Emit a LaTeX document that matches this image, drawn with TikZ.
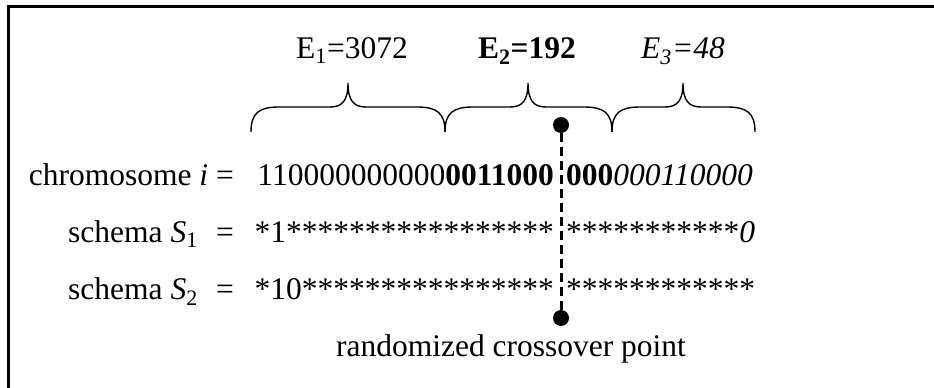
\documentclass[tikz,border=0pt]{standalone}
\usepackage{fontspec}
\setmainfont{Liberation Serif}
% curly brace over a bit range: left end, right end, tip position
\newcommand\bitbrace[3]{%
  \draw[bracestyle] (#1,132) .. controls (#1,113) and (#1+8,107) .. (#1+28,107)
    -- (#3-18,107) .. controls (#3-6,107) and (#3,101) .. (#3,83)
    .. controls (#3,101) and (#3+6,107) .. (#3+18,107)
    -- (#2-28,107) .. controls (#2-8,107) and (#2,113) .. (#2,132);}
\begin{document}
\begin{tikzpicture}[x=1pt,y=-1pt,
  txt/.style={inner sep=0pt, font=\fontsize{31.5}{36}\selectfont},
  bracestyle/.style={line width=1.4pt},
  cut/.style={line width=3pt, dash pattern=on 9pt off 5pt},
  dot/.style={circle, fill=black, inner sep=0pt, minimum size=16pt}]
\useasboundingbox (0,0) rectangle (934,388);
\begin{scope}
  \clip (0,0) rectangle (934,388);
  \draw[line width=2.8pt] (8.5,6.5) rectangle (960,410);
\end{scope}

% block sizes
\node[txt, anchor=base] (e1) at (352,58) {E\textsubscript{1}=3072};
\node[txt, anchor=base] (e2) at (527,58) {\textbf{E\textsubscript{2}=192}};
\node[txt, anchor=base] (e3) at (683,58) {\textit{E\textsubscript{3}=48}};

\bitbrace{251}{445}{348}
\bitbrace{445}{612}{528}
\bitbrace{612}{755}{683}

% chromosome and schemata
\node[txt, anchor=base east] (chrlab) at (234,185) {chromosome \textit{i} =};
\node[txt, anchor=base east] (chrl) at (554,185) {110000000000\textbf{0011000}};
\node[txt, anchor=base west] (chrr) at (566,185) {\textbf{000}\textit{000110000}};

\node[txt, anchor=base east] (s1lab) at (198,242) {schema \textit{S}\textsubscript{1}};
\node[txt, anchor=base west] (s1eq) at (216,242) {=};
\node[txt, anchor=base east] (s1l) at (554,242) {*1*****************};
\node[txt, anchor=base west] (s1r) at (566,242) {***********\textit{0}};

\node[txt, anchor=base east] (s2lab) at (198,299) {schema \textit{S}\textsubscript{2}};
\node[txt, anchor=base west] (s2eq) at (216,299) {=};
\node[txt, anchor=base east] (s2l) at (554,299) {*10****************};
\node[txt, anchor=base west] (s2r) at (566,299) {************};

% crossover point
\node[dot] (ctop) at (561,125) {};
\node[dot] (cbot) at (561,318) {};
\draw[cut] (ctop) -- (cbot);
\node[txt, anchor=base] (cplab) at (511,356) {randomized crossover point};
\end{tikzpicture}
\end{document}
